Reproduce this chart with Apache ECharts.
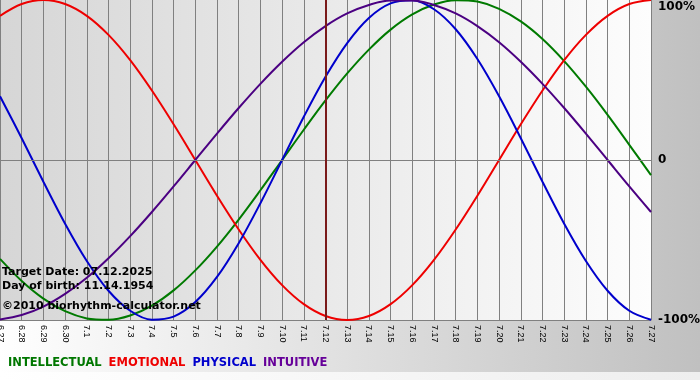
<!DOCTYPE html>
<html>
<head>
<meta charset="utf-8">
<script src="https://cdn.jsdelivr.net/npm/echarts@6/dist/echarts.min.js"></script>
<style>html,body{margin:0;padding:0;background:#fff}#c{width:700px;height:380px}</style>
</head>
<body>
<div id="c"></div>
<script>
const dates = ['6.27','6.28','6.29','6.30','7.1','7.2','7.3','7.4','7.5','7.6','7.7','7.8','7.9','7.10','7.11','7.12','7.13','7.14','7.15','7.16','7.17','7.18','7.19','7.20','7.21','7.22','7.23','7.24','7.25','7.26','7.27'];
const intellectual = [-61.8,-75.6,-86.6,-94.5,-99.0,-99.9,-97.2,-91.0,-81.5,-69.0,-54.1,-37.2,-18.9,0,18.9,37.2,54.1,69.0,81.5,91.0,97.2,99.9,99.0,94.5,86.6,75.6,61.8,45.8,28.2,9.5,-9.5];
const emotional = [90.1,97.5,100,97.5,90.1,78.2,62.4,43.4,22.3,0,-22.3,-43.4,-62.4,-78.2,-90.1,-97.5,-100,-97.5,-90.1,-78.2,-62.4,-43.4,-22.3,0,22.3,43.4,62.4,78.2,90.1,97.5,100];
const physical = [39.8,13.6,-13.6,-39.8,-63.1,-81.7,-94.2,-99.8,-97.9,-88.8,-73.1,-52.0,-27.0,0,27.0,52.0,73.1,88.8,97.9,99.8,94.2,81.7,63.1,39.8,13.6,-13.6,-39.8,-63.1,-81.7,-94.2,-99.8];
const intuitive = [-99.7,-96.9,-91.6,-83.7,-73.6,-61.4,-47.6,-32.5,-16.5,0,16.5,32.5,47.6,61.4,73.6,83.7,91.6,96.9,99.7,99.7,96.9,91.6,83.7,73.6,61.4,47.6,32.5,16.5,0,-16.5,-32.5];
const targetDate = '7.12';
const seriesNames = ['INTELLECTUAL','EMOTIONAL','PHYSICAL','INTUITIVE'];
const infoLines = ['Target Date: 07.12.2025','Day of birth: 11.14.1954','©2010 biorhythm-calculator.net'];

const lineColors = ['#007a00','#ee0000','#0000cc','#4b0082'];
const legendColors = ['#007700','#ee0000','#0000cc','#660099'];
const seriesData = [intellectual, emotional, physical, intuitive];

const chart = echarts.init(document.getElementById('c'), null, {renderer:'canvas'});
const FONT = '"DejaVu Sans", Verdana, sans-serif';

const series = seriesNames.map((n,i)=>({
  name:n, type:'line', data:seriesData[i], smooth:0.35, symbol:'none',
  lineStyle:{color:lineColors[i], width:2}, itemStyle:{color:lineColors[i]},
  z: 3, silent:true
}));
series[0].markLine = {
  silent:true, symbol:'none', label:{show:false}, animation:false,
  data:[
    {yAxis:0, lineStyle:{color:'#808080', width:1, type:'solid'}},
    {xAxis:targetDate, lineStyle:{color:'#7a1a1a', width:2, type:'solid'}}
  ]
};

chart.setOption({
  animation:false,
  backgroundColor:{type:'linear',x:0,y:0,x2:1,y2:0,colorStops:[{offset:0,color:'#ffffff'},{offset:1,color:'#c0c0c0'}]},
  grid:{left:0, right:49, top:0, height:320, show:true, borderWidth:0, containLabel:false, outerBoundsMode:'none',
    backgroundColor:{type:'linear',x:0,y:0,x2:1,y2:0,colorStops:[{offset:0,color:'#d6d6d6'},{offset:1,color:'#fdfdfd'}]}},
  xAxis:{type:'category', data:dates, boundaryGap:false,
    axisLine:{onZero:false, lineStyle:{color:'#808080'}},
    axisTick:{show:false},
    axisLabel:{interval:0, rotate:-90, margin:5, color:'#000', fontFamily:'"Liberation Sans", Arial, sans-serif', fontSize:9, hideOverlap:false},
    splitLine:{show:true, interval:0, lineStyle:{color:'#808080', width:1}}},
  yAxis:{type:'value', position:'right', min:-100, max:100, interval:100,
    axisLine:{show:false}, axisTick:{show:false}, splitLine:{show:false},
    axisLabel:{margin:7, color:'#000', fontFamily:FONT, fontSize:12, fontWeight:'bold',
      formatter:v=> v===100 ? '{t|100%}' : (v===0 ? '0' : '-100%'),
      rich:{t:{padding:[14,0,0,0], fontFamily:FONT, fontSize:12, fontWeight:'bold', color:'#000'}}}},
  legend:{left:-2, top:352, itemWidth:0, itemHeight:0, itemGap:2, icon:'none', selectedMode:false,
    textStyle:{fontFamily:FONT, fontSize:11.5, fontWeight:'bold'},
    data:seriesNames.map((n,i)=>({name:n, textStyle:{color:legendColors[i]}}))},
  graphic:[
    {type:'rect', left:0, top:372, shape:{width:700,height:8}, z:-1, silent:true,
      style:{fill:{type:'linear',x:0,y:0,x2:1,y2:0,colorStops:[{offset:0,color:'#ffffff'},{offset:1,color:'#eeeeee'}]}}},
    ...infoLines.map((t,i)=>({type:'text', left:2, top:[267,281,301][i], z:100, silent:true,
      style:{text:t, fill:'#000', font:'bold 11px '+FONT}}))
  ],
  series:series
});
</script>
</body>
</html>
